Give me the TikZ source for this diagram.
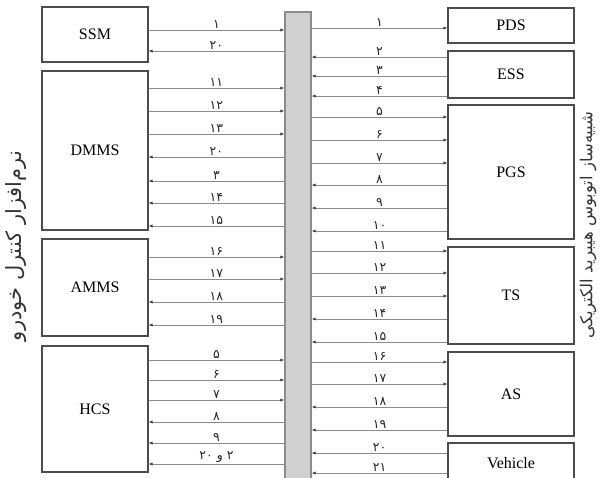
\documentclass[tikz,border=0pt]{standalone}
\usepackage{fontspec}
\setmainfont{Liberation Serif}
\newfontfamily\fafont[Script=Arabic]{DejaVu Sans}
\TeXXeTstate=1
\usetikzlibrary{arrows.meta}

\begin{document}
\begin{tikzpicture}[
                        x=1pt, y=-1pt,
                        font        = \fontsize{16}{19}\selectfont,
                        box/.style  = {draw=black!70, line width=1.1pt, inner sep=0pt},
                        lbox/.style = {box, minimum width=106pt},
                        rbox/.style = {box, minimum width=126pt},
                        bus/.style  = {draw=black!45, fill=black!18, line width=1.3pt,
                                    inner sep=0pt, minimum width=26pt},
                        lbl/.style  = {font=\fafont\fontsize{12.5}{14}\selectfont, text=black!85,
                                    above=0pt, inner sep=1pt},
                        side/.style = {text=black!80, rotate=90},
                        ar/.style   = {draw=black!45, line width=0.7pt,
                                    -{Latex[length=4pt, width=3.2pt, color=black!75]}},
                        ra/.style   = {draw=black!45, line width=0.7pt,
                                    {Latex[length=4pt, width=3.2pt, color=black!75]}-}
                  ]
                  \path[use as bounding box, clip] (0,0) rectangle (605,477);

                  % control software side
                  \node[lbox, minimum height=55pt]  (ssm)  at (95,34.5)  {SSM};
                  \node[lbox, minimum height=159pt] (dmms) at (95,150.5) {DMMS};
                  \node[lbox, minimum height=97pt]  (amms) at (95,287.5) {AMMS};
                  \node[lbox, minimum height=126pt] (hcs)  at (95,409)   {HCS};

                  % bus
                  \node[bus, minimum height=488pt] (bus) at (298,256) {};

                  % simulator side
                  \node[rbox, minimum height=35pt]  (pds) at (511,25.5)  {PDS};
                  \node[rbox, minimum height=47pt]  (ess) at (511,74.5)  {ESS};
                  \node[rbox, minimum height=134pt] (pgs) at (511,172)   {PGS};
                  \node[rbox, minimum height=97pt]  (ts)  at (511,295.5) {TS};
                  \node[rbox, minimum height=84pt]  (as)  at (511,394)   {AS};
                  \node[rbox, minimum height=41pt]  (veh) at (511,463.5) {Vehicle};

                  \node[side, font=\fafont\fontsize{21}{24}\selectfont] (soft) at (16,246)
                        {\beginR نرم‌افزار کنترل خودرو\endR};
                  \node[side, font=\fafont\fontsize{16.5}{19}\selectfont] (sim) at (588,225)
                        {\beginR شبیه‌ساز اتوبوس هیبرید الکتریکی\endR};

                  % left signals
                  \foreach \b/\y/\d/\t in {ssm/30/ar/۱, ssm/51/ra/۲۰,
                        dmms/88/ar/۱۱, dmms/111/ar/۱۲, dmms/134/ar/۱۳, dmms/157/ra/۲۰,
                        dmms/181/ra/۳, dmms/203/ra/۱۴, dmms/226/ra/۱۵,
                        amms/257/ar/۱۶, amms/279/ar/۱۷, amms/302/ra/۱۸, amms/325/ra/۱۹,
                        hcs/360/ar/۵, hcs/380/ar/۶, hcs/400/ar/۷, hcs/422/ra/۸, hcs/443/ra/۹,
                        hcs/464/ra/{\beginR ۲ و \beginL۲۰\endL\endR}}
                        \draw[\d] (\b.east |- 0,\y) -- node[lbl] {\t} (bus.west |- 0,\y);

                  % right signals
                  \foreach \b/\y/\d/\t in {pds/28/ar/۱,
                        ess/57/ra/۲, ess/76/ra/۳, ess/96/ra/۴,
                        pgs/117/ar/۵, pgs/140/ar/۶, pgs/163/ar/۷, pgs/185/ra/۸, pgs/208/ra/۹, pgs/231/ra/۱۰,
                        ts/251/ar/۱۱, ts/273/ar/۱۲, ts/296/ar/۱۳, ts/319/ra/۱۴, ts/342/ra/۱۵,
                        as/362/ar/۱۶, as/384/ar/۱۷, as/407/ra/۱۸, as/430/ra/۱۹,
                        veh/453/ra/۲۰, veh/473/ra/۲۱}
                        \draw[\d] (bus.east |- 0,\y) -- node[lbl] {\t} (\b.west |- 0,\y);
            \end{tikzpicture}
\end{document}
